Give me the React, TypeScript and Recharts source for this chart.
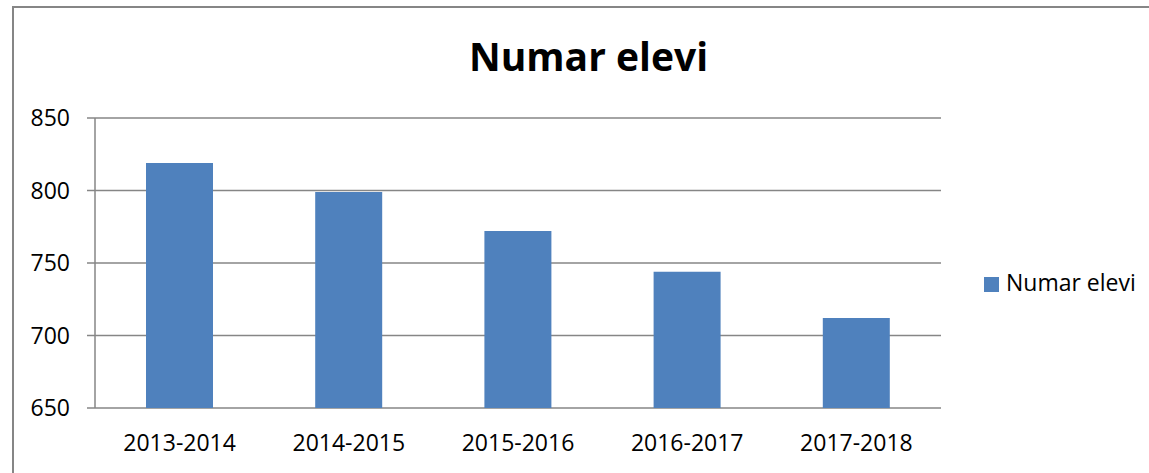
import { BarChart, Bar, XAxis, YAxis, CartesianGrid, Legend } from 'recharts'

const YEARS = ['2013-2014', '2014-2015', '2015-2016', '2016-2017', '2017-2018']
const NUMAR_ELEVI = [819, 799, 772, 744, 712]
const Y_TICKS = [650, 700, 750, 800, 850]
const EDGE_TICKS = [0, 1, 2, 3, 4, 5]

const FONT = '"Open Sans", sans-serif'
const GREY = '#868686'

const data = YEARS.map((an, i) => ({ an, pos: i + 0.5, elevi: NUMAR_ELEVI[i] }))

export default function App() {
  return (
    <div style={{ position: 'relative', width: 1149, height: 473, overflow: 'hidden', background: '#fff', fontFamily: FONT }}>
      <style>{'body{margin:0;overflow:hidden}'}</style>
      {/* chart frame, its right and bottom edges fall outside the picture */}
      <div style={{ position: 'absolute', left: 12, top: 6, width: 1160, height: 500, border: `2px solid ${GREY}`, boxSizing: 'border-box' }} />
      <div style={{ position: 'absolute', left: 0, width: 1177, top: 36, textAlign: 'center', fontSize: 39, lineHeight: 1, fontWeight: 700, color: '#000' }}>
        Numar elevi
      </div>
      <div style={{ position: 'absolute', left: 0, top: 0 }}>
        <BarChart width={1149} height={473} data={data} margin={{ top: 118, right: 48, left: 0, bottom: 0 }} barSize={67}>
          <CartesianGrid vertical={false} stroke={GREY} strokeWidth={1.5} />
          <XAxis
            xAxisId="edge"
            type="number"
            dataKey="pos"
            domain={[0, 5]}
            ticks={EDGE_TICKS}
            tick={false}
            tickSize={8}
            height={0}
            axisLine={{ stroke: GREY, strokeWidth: 1.5 }}
            tickLine={{ stroke: GREY, strokeWidth: 1.5 }}
          />
          <XAxis
            dataKey="an"
            axisLine={false}
            tickLine={false}
            tickSize={0}
            tickMargin={27}
            height={65}
            tick={{ fontSize: 23, fill: '#000', fontFamily: FONT }}
          />
          <YAxis
            width={95}
            domain={[650, 850]}
            ticks={Y_TICKS}
            interval={0}
            tickSize={8}
            tickMargin={17}
            axisLine={{ stroke: GREY, strokeWidth: 1.5 }}
            tickLine={{ stroke: GREY, strokeWidth: 1.5 }}
            tick={{ fontSize: 23, fill: '#000', fontFamily: FONT }}
          />
          <Legend
            layout="vertical"
            align="right"
            verticalAlign="top"
            iconType="square"
            iconSize={15}
            wrapperStyle={{ top: 266, right: 5, width: 160, fontSize: 23, fontFamily: FONT }}
            formatter={(v) => <span style={{ color: '#000', marginLeft: 3, whiteSpace: 'nowrap' }}>{v}</span>}
          />
          <Bar dataKey="elevi" name="Numar elevi" fill="#4F81BD" isAnimationActive={false} />
        </BarChart>
      </div>
    </div>
  )
}
